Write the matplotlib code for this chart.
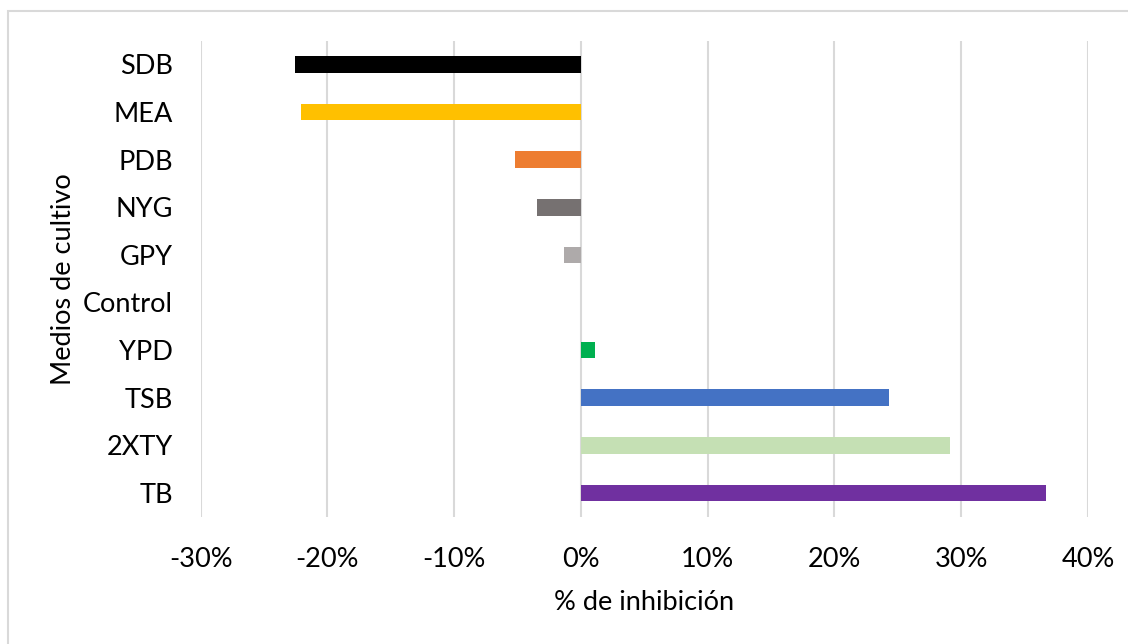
import matplotlib
matplotlib.use("Agg")
import matplotlib.pyplot as plt
from matplotlib.patches import Rectangle
from matplotlib.ticker import FuncFormatter, MultipleLocator

categories = ["SDB", "MEA", "PDB", "NYG", "GPY", "Control", "YPD", "TSB", "2XTY", "TB"]
values = [-22.6, -22.1, -5.2, -3.5, -1.3, 0.0, 1.1, 24.3, 29.1, 36.7]
colors = ["#000000", "#FFC000", "#ED7D31", "#767171", "#AEAAAA", "#A5A5A5",
          "#00B050", "#4472C4", "#C5E0B4", "#7030A0"]
x_label = "% de inhibición"
y_label = "Medios de cultivo"

plt.rcParams['font.family'] = ['Lato', 'DejaVu Sans']

W, H = 1128, 644
fig = plt.figure(figsize=(W / 100, H / 100), dpi=100)
ax = fig.add_axes([200.7 / W, 1 - 516.7 / H, (1088 - 200.7) / W, (516.7 - 40.7) / H])

# outer chart border
fig.patches.append(Rectangle((7.5 / W, -0.05), 1.2, 1 - 10.5 / H + 0.05,
                             transform=fig.transFigure, fill=False,
                             edgecolor="#D9D9D9", linewidth=1.5))

ypos = list(range(len(categories)))
ax.barh(ypos, [v / 100 for v in values], height=0.35, color=colors, zorder=3)

ax.set_xlim(-0.30, 0.40)
ax.set_ylim(len(categories) - 0.5, -0.5)
ax.xaxis.set_major_locator(MultipleLocator(0.10))
ax.xaxis.set_major_formatter(FuncFormatter(lambda v, p: f"{round(v * 100):d}%"))
ax.set_yticks(ypos)
ax.set_yticklabels(categories)

ax.grid(axis="x", color="#D9D9D9", linewidth=1.5, zorder=0)
for s in ax.spines.values():
    s.set_visible(False)
ax.tick_params(axis="both", length=0, labelsize=19.5, colors="#000000")
ax.tick_params(axis="y", pad=20)
ax.tick_params(axis="x", pad=21.5)

ax.set_xlabel(x_label, fontsize=19.5, labelpad=13)
ax.set_ylabel(y_label, fontsize=19.5, labelpad=5)

fig.savefig("out.png", dpi=100)
